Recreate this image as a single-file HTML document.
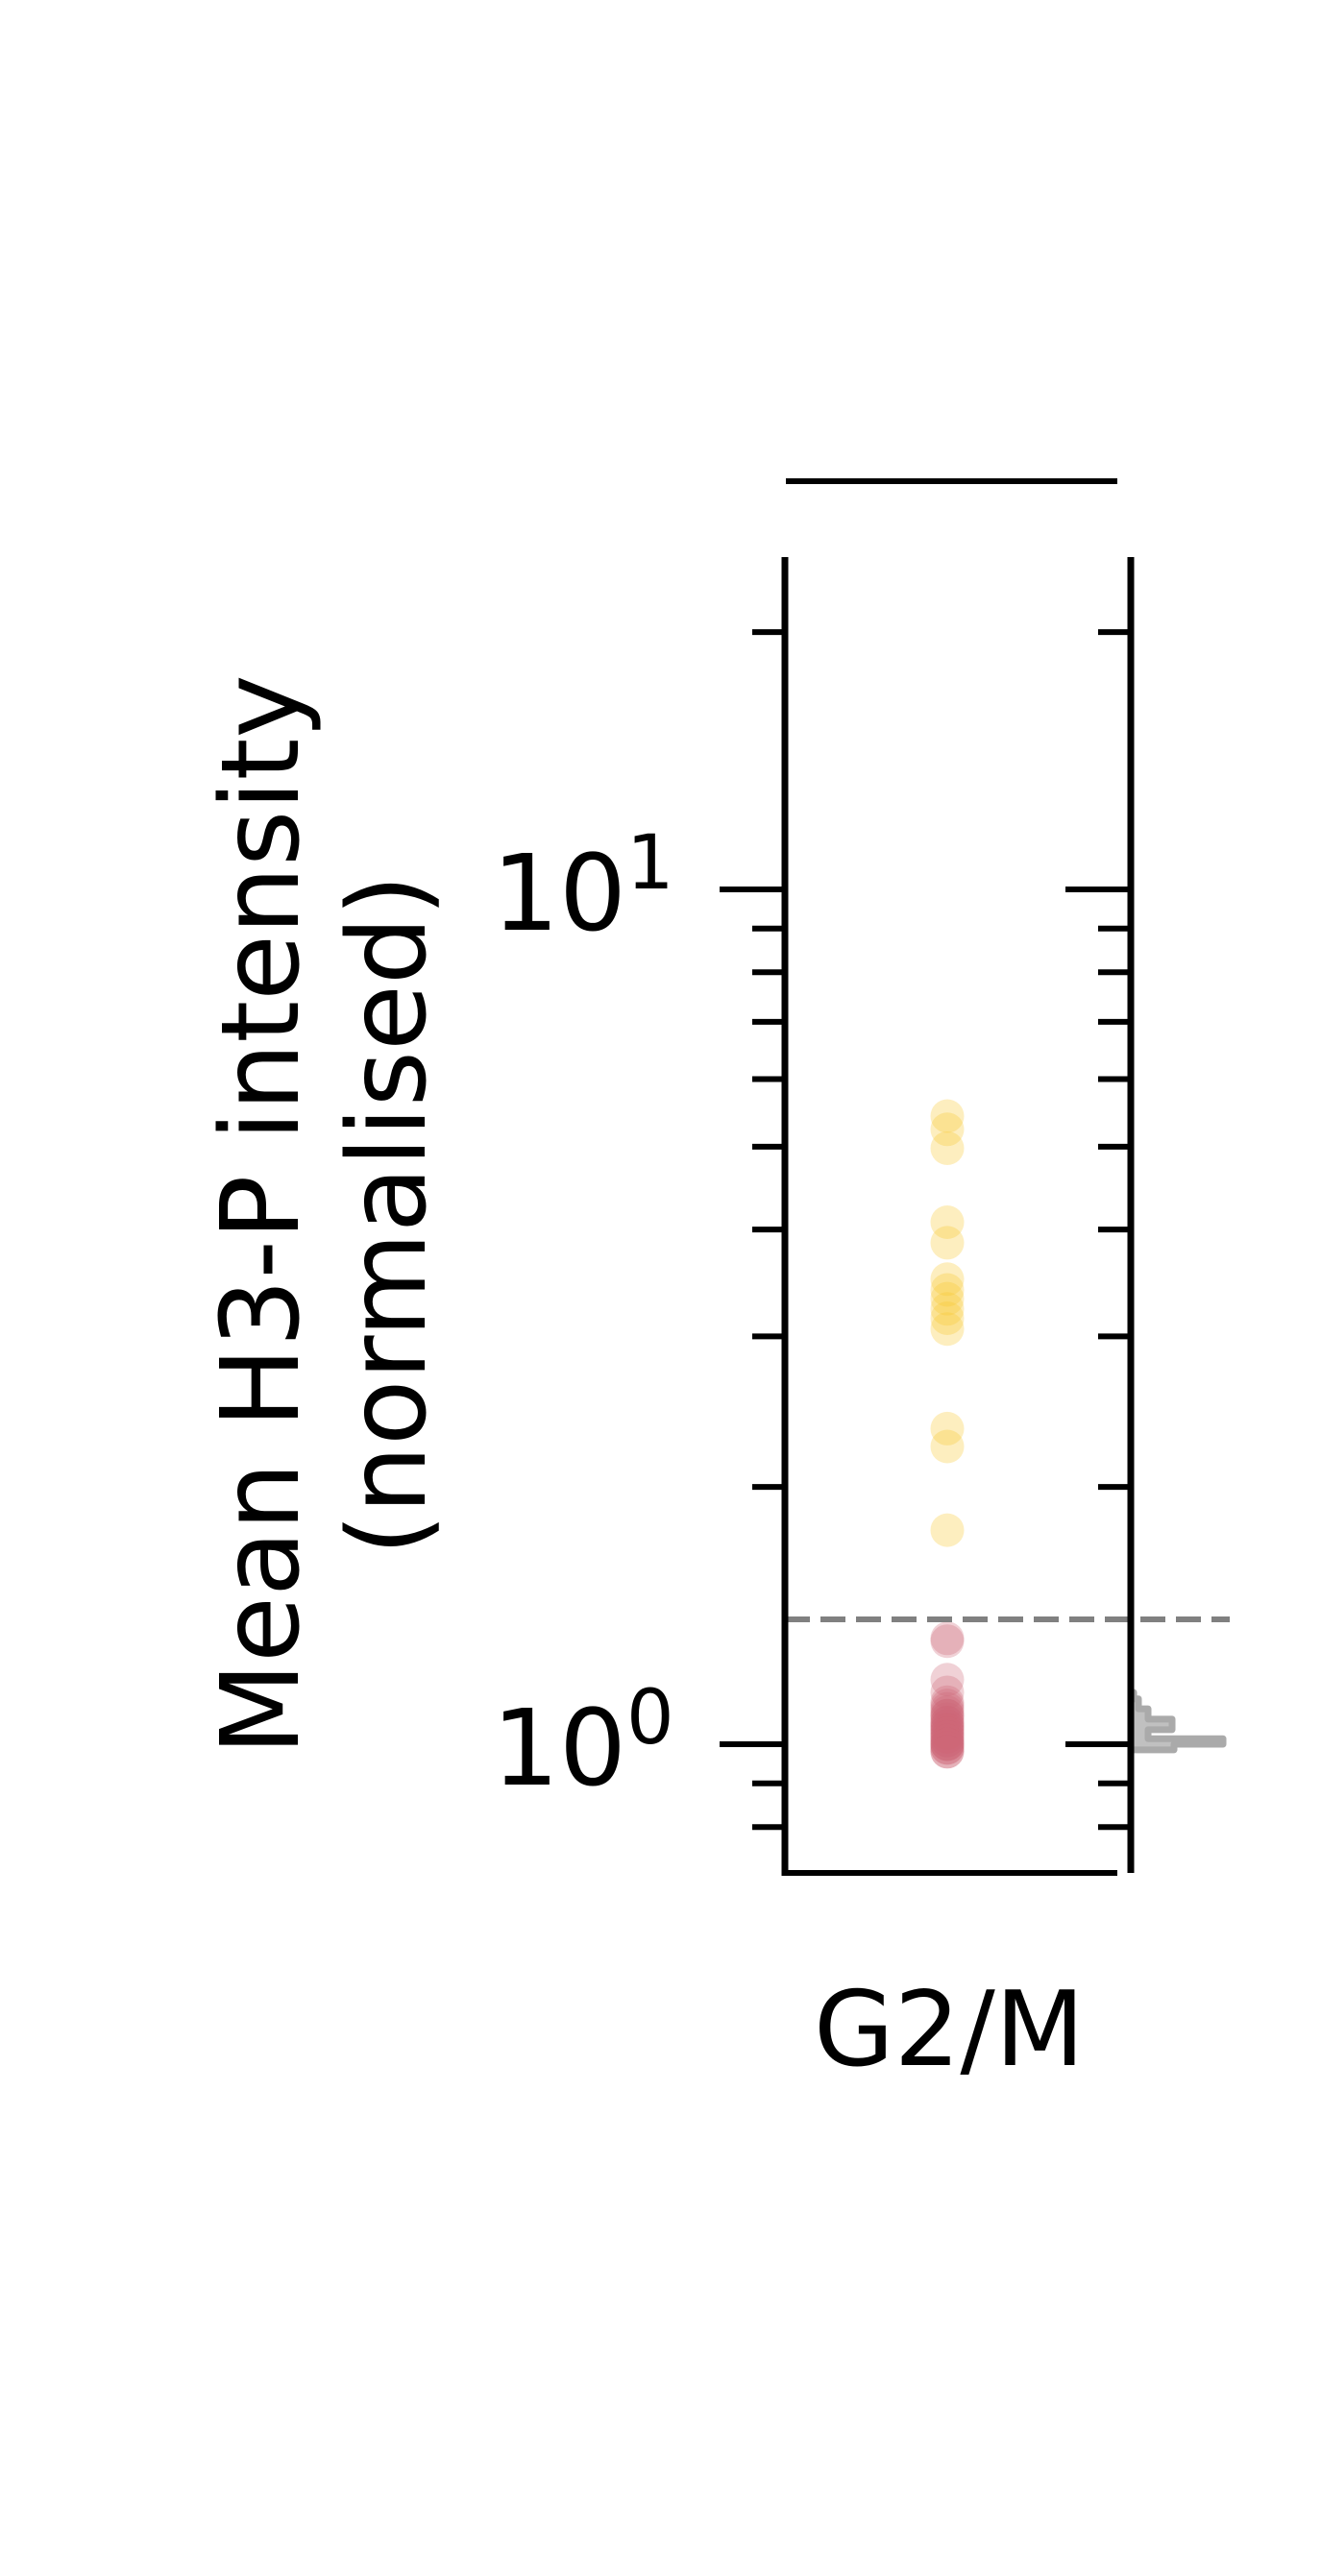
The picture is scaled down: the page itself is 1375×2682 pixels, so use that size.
<!DOCTYPE html>
<html><head><meta charset="utf-8"><style>
html,body{margin:0;padding:0;background:#fff;}
svg{display:block;}
text{font-family:"DejaVu Sans","Liberation Sans",sans-serif;fill:#000;}
</style></head><body>
<svg id="chart" width="1375" height="2682" viewBox="0 0 1375 2682" xmlns="http://www.w3.org/2000/svg">
<rect width="1375" height="2682" fill="#fff"/>
<g id="g-hist"></g>
<g id="g-points"></g>
<g id="g-axes"></g>
<line x1="818" y1="501" x2="1163" y2="501" stroke="#000" stroke-width="6"/>
<g>
<text transform="translate(310,1265) rotate(-90)" text-anchor="middle" font-size="112">Mean H3-P intensity</text>
<text transform="translate(442,1265) rotate(-90)" text-anchor="middle" font-size="112">(normalised)</text>
</g>
<text x="988" y="2150" text-anchor="middle" font-size="108">G2/M</text>
</svg>
<script>
const highValues = [5.43,5.24,4.98,4.08,3.86,3.50,3.40,3.32,3.23,3.15,3.06,2.34,2.23,1.78];
const lowValues = [1.33,1.32,1.19,1.15,1.12,1.11,1.10,1.09,1.08,1.08,1.07,1.06,1.06,1.05,1.05,1.04,1.04,1.03,1.03,1.02,1.02,1.01,1.01,1.00,1.00,1.00,0.99,0.99,0.98,0.98];
const threshold = 1.40;
const yTickMajor = [1,10];
const yTickMajorLabels = ["0","1"];
const yTickMinor = [0.8,0.9,2,3,4,5,6,7,8,9,20];
const histEdges = [0.985,1.0,1.015,1.04,1.07,1.1,1.13,1.15];
const histCounts = [45,96,18,43,18,8,3];

const NS="http://www.w3.org/2000/svg";
const Y0=1816, DEC=890;
function y(v){return Y0-Math.log10(v)*DEC;}
const LX=817, RX=1177, TOP=580, BOT=1950, CX=986;
function mk(tag,attrs,parent){const e=document.createElementNS(NS,tag);for(const k in attrs)e.setAttribute(k,attrs[k]);parent.appendChild(e);return e;}
const gA=document.getElementById('g-axes'), gP=document.getElementById('g-points'), gH=document.getElementById('g-hist');

const hs=1.0;
let d=`M${RX},${y(histEdges[0])}`;
for(let i=0;i<histCounts.length;i++){
  const w=RX+histCounts[i]*hs;
  d+=` L${w},${y(histEdges[i])} L${w},${y(histEdges[i+1])}`;
}
d+=` L${RX},${y(histEdges[histEdges.length-1])} Z`;
const hp=mk('path',{d:d,fill:'#c0c0c0',stroke:'#aaaaaa','stroke-width':7,'stroke-linejoin':'round'},gH);



const th=mk('line',{x1:LX,x2:1280,y1:y(threshold),y2:y(threshold),stroke:'#808080','stroke-width':6,'stroke-dasharray':'26 11'},gA);



highValues.forEach(v=>{
  const c=mk('circle',{cx:CX,cy:y(v),r:17.5,fill:'#f9c62c','fill-opacity':0.3},gP);
  
  
});
lowValues.forEach(v=>{
  const c=mk('circle',{cx:CX,cy:y(v),r:17.5,fill:'#cc6677','fill-opacity':0.3},gP);
  
  
});

[LX,RX].forEach((x,i)=>{
  const l=mk('line',{x1:x,x2:x,y1:TOP,y2:BOT,stroke:'#000','stroke-width':7},gA);
  
  
  yTickMajor.forEach(v=>{
    const t=mk('line',{x1:x-68,x2:x,y1:y(v),y2:y(v),stroke:'#000','stroke-width':6},gA);
    
    
  });
  yTickMinor.forEach(v=>{
    const t=mk('line',{x1:x-34,x2:x,y1:y(v),y2:y(v),stroke:'#000','stroke-width':6},gA);
    
    
  });
});
const bl=mk('line',{x1:LX-3.5,x2:1163,y1:BOT,y2:BOT,stroke:'#000','stroke-width':6},gA);



yTickMajor.forEach((v,i)=>{
  const t=mk('text',{x:512,y:y(v)+42,'font-size':110},gA);
  
  
  t.textContent='10';
  const s=mk('tspan',{'font-size':78,dy:-43},t);
  s.textContent=yTickMajorLabels[i];
});
</script>
</body></html>
